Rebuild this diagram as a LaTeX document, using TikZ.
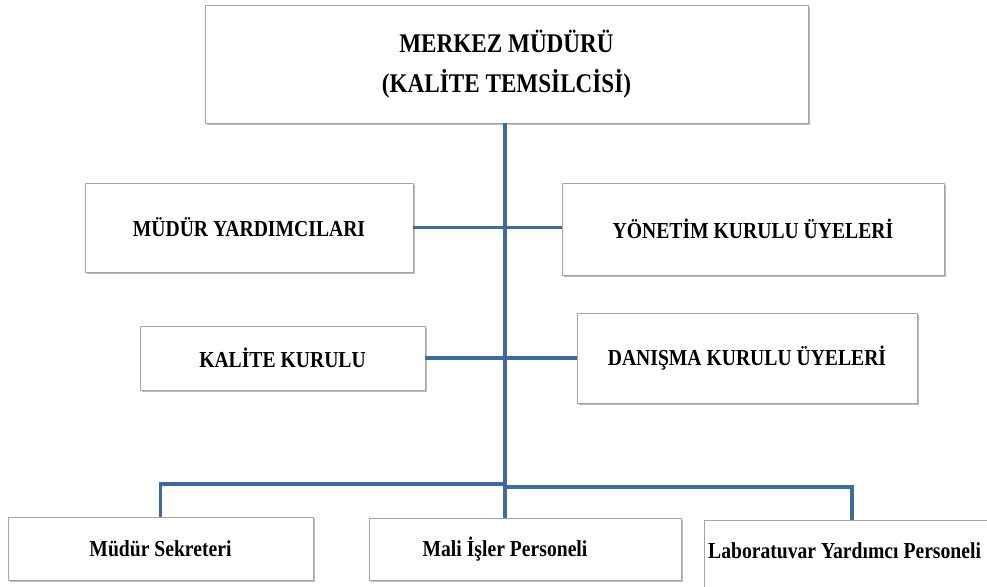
\documentclass[tikz,border=0pt]{standalone}
\usepackage{fontspec}
\setmainfont{Liberation Serif}[FakeStretch=0.86]
\usetikzlibrary{shadows}
\definecolor{linkblue}{RGB}{63,106,158}
\definecolor{boxgray}{RGB}{165,165,165}
\tikzset{
  unit box/.style={draw=boxgray, line width=0.8pt, fill=white, inner sep=0pt,
    drop shadow={shadow xshift=1.5pt, shadow yshift=-2pt, opacity=0.45, fill=black!60}},
  sized/.style 2 args={minimum width=#1*0.03cm, minimum height=#2*0.03cm},
  box text/.style={font=\bfseries\fontsize{19.5}{24}\selectfont},
  link/.style={linkblue, line width=2.6pt},
}
\begin{document}
\begin{tikzpicture}[x=0.03cm, y=-0.03cm]
\clip (0,0) rectangle (987,586);
\node[unit box, sized={603}{118}, align=center,
  font=\bfseries\fontsize{23}{34}\selectfont] (merkez) at (506.5,64) {MERKEZ MÜDÜRÜ\\(KALİTE TEMSİLCİSİ)};

\node[unit box, box text, sized={328}{89}] (yard) at (249,227.5) {MÜDÜR YARDIMCILARI};
\node[unit box, box text, sized={382}{92}] (yonetim) at (753,229) {YÖNETİM KURULU ÜYELERİ};
\node[unit box, box text, sized={285}{64}] (kalite) at (282.5,358) {KALİTE KURULU};
\node[unit box, box text, sized={340}{90}] (danisma) at (747,358) {DANIŞMA KURULU ÜYELERİ};

\node[unit box, box text, sized={305}{63}] (sekreter) at (160.5,548.5) {Müdür Sekreteri};
\node[unit box, sized={312}{62}] (mali) at (525,549) {};
\node[box text] (malitext) at (505,549) {Mali İşler Personeli};
\node[unit box, sized={296}{80}] (lab) at (852,560) {};
\node[box text, anchor=west] (labtext) at (704,551) {Laboratuvar Yardımcı Personeli};

\coordinate (hubl) at (505,484);
\coordinate (hubr) at (505,487);

\draw[link] (merkez.south -| hubr) -- (mali.north -| hubr);
\draw[link] (yard.east) -- (yard.east -| yonetim.west);
\draw[link] (kalite.east) -- (kalite.east -| danisma.west);
\draw[link] (hubl) -| (sekreter.north);
\draw[link] (hubr) -| (lab.north);

\end{tikzpicture}
\end{document}
